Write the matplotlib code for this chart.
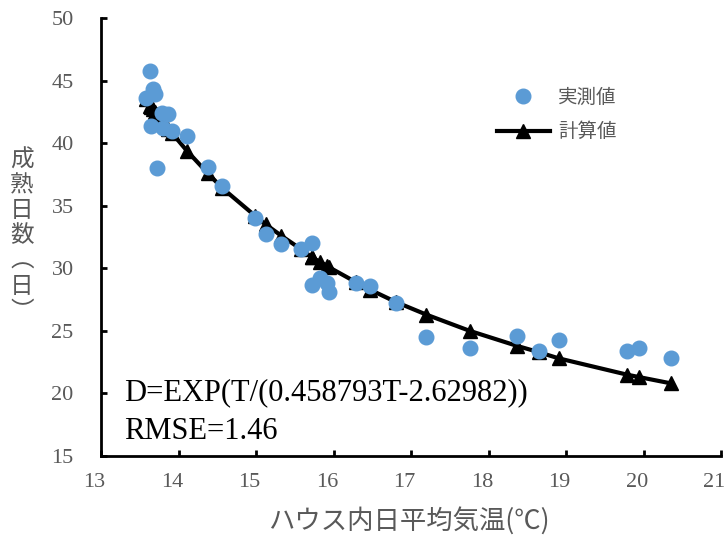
import matplotlib
matplotlib.use("Agg")
import matplotlib.pyplot as plt
from matplotlib.transforms import ScaledTranslation

# ハウス内日平均気温 (℃) and 成熟日数 (日)
temps = [13.58, 13.63, 13.64, 13.67, 13.69, 13.71, 13.78, 13.80, 13.86, 13.91,
         14.10, 14.37, 14.56, 14.98, 15.12, 15.32, 15.58, 15.71, 15.71, 15.82,
         15.91, 15.93, 16.28, 16.46, 16.80, 17.19, 17.75, 18.36, 18.64, 18.90,
         19.78, 19.94, 20.35]
measured = [43.6, 45.8, 41.4, 44.3, 43.9, 38.0, 42.4, 41.2, 42.3, 41.0,
            40.6, 38.1, 36.6, 34.0, 32.7, 31.9, 31.5, 32.0, 28.7, 29.2,
            28.8, 28.1, 28.8, 28.6, 27.2, 24.5, 23.6, 24.6, 23.4, 24.3,
            23.4, 23.6, 22.8]
calculated = [43.5, 43.0, 42.9, 42.7, 42.5, 42.3, 41.8, 41.6, 41.1, 40.8,
              39.4, 37.6, 36.4, 34.2, 33.5, 32.6, 31.5, 30.9, 30.9, 30.5,
              30.2, 30.1, 28.9, 28.3, 27.3, 26.3, 25.0, 23.8, 23.3, 22.8,
              21.5, 21.3, 20.8]

xticks = [13, 14, 15, 16, 17, 18, 19, 20, 21]
yticks = [15, 20, 25, 30, 35, 40, 45, 50]

formula = "D=EXP(T/(0.458793T-2.62982))"
rmse = "RMSE=1.46"

gray = "#595959"
jp = ["Noto Sans CJK JP", "DejaVu Sans"]
serif = ["Liberation Serif", "DejaVu Serif"]

fig = plt.figure(figsize=(7.27, 5.36), dpi=100)
ax = fig.add_axes([0.1396, 0.1493, 0.8528, 0.8172])

ax.plot(temps, calculated, color="black", lw=3, marker="^", ms=10,
        label="計算値", zorder=2)
ax.plot(temps, measured, ls="none", marker="o", ms=10.5, color="#5B9BD5",
        label="実測値", zorder=3)

ax.set_xlim(13, 21)
ax.set_ylim(15, 50)
ax.set_xticks(xticks)
ax.set_yticks(yticks)

for s in ["top", "right"]:
    ax.spines[s].set_visible(False)
for s in ["left", "bottom"]:
    ax.spines[s].set_linewidth(2)
ax.tick_params(direction="in", length=4.5, width=2, colors="black",
               labelcolor=gray, labelsize=16)
ax.tick_params(axis="y", pad=20)
ax.tick_params(axis="x", pad=12)
plt.setp(ax.get_xticklabels() + ax.get_yticklabels(), family=serif)
# x tick labels sit a little left of their ticks in the original
shift = ScaledTranslation(-5 / 72, 0, fig.dpi_scale_trans)
for lab in ax.get_xticklabels():
    lab.set_transform(lab.get_transform() + shift)

handles, labels = ax.get_legend_handles_labels()
leg = ax.legend(handles[::-1], labels[::-1], loc="upper left",
                bbox_to_anchor=(0.638, 0.843), frameon=False, borderpad=0,
                borderaxespad=0, handlelength=2.7, handletextpad=0.45,
                labelspacing=0.7, prop={"family": jp, "size": 14})
for t in leg.get_texts():
    t.set_color(gray)

ax.text(0.036, 0.144, formula, transform=ax.transAxes, ha="left", va="center",
        family=serif, fontsize=22, color="black")
ax.text(0.036, 0.057, rmse, transform=ax.transAxes, ha="left", va="center",
        family=serif, fontsize=22, color="black")

fig.text(409 / 727, 1 - 521 / 536, "ハウス内日平均気温(℃)", ha="center",
         va="center", family=jp, fontsize=19, color=gray)
fig.text(22 / 727, 1 - 236 / 536, "成\n熟\n日\n数\n︵\n日\n︶", ha="center",
         va="center", family=jp, fontsize=17, color=gray, linespacing=1.12)

fig.savefig("out.png", dpi=100)
